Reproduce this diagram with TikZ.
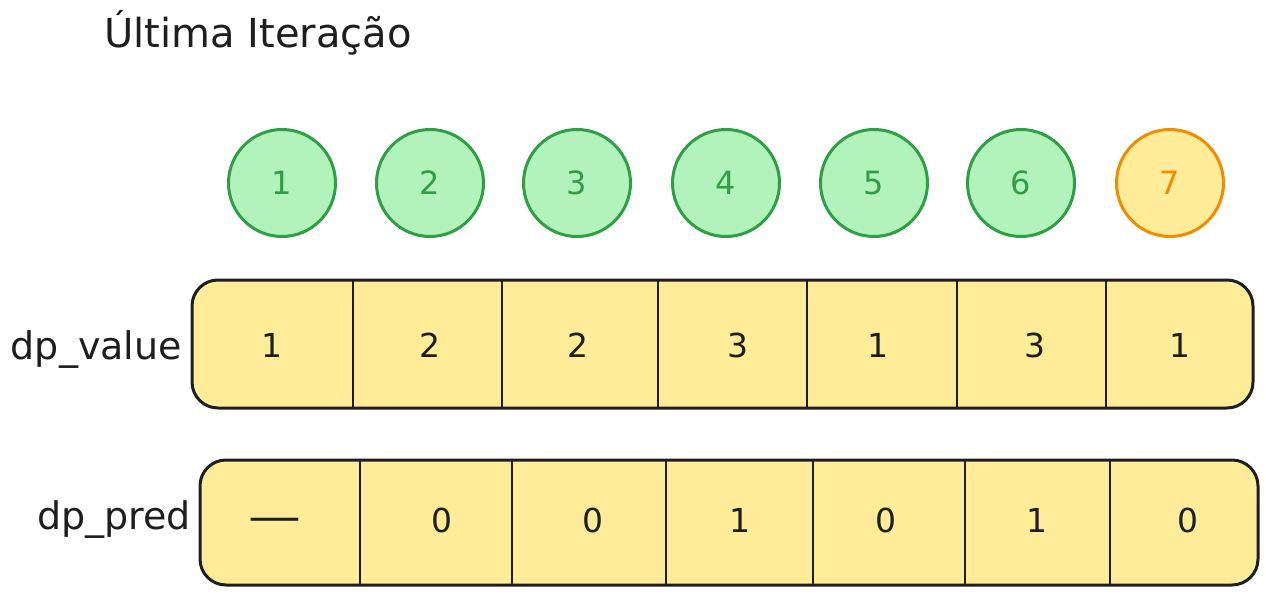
\documentclass[tikz,border=0pt]{standalone}
\usepackage{fontspec}
\setmainfont{DejaVu Sans}
\definecolor{gfill}{HTML}{B2F2BB}
\definecolor{gline}{HTML}{2F9E44}
\definecolor{ofill}{HTML}{FFEC99}
\definecolor{oline}{HTML}{F08C00}
\definecolor{ink}{HTML}{1E1E1E}
\tikzset{
  node/.style={circle,draw=gline,fill=gfill,line width=3pt,minimum size=107pt,inner sep=0pt,text=gline,font=\fontsize{32}{32}\selectfont},
  cur/.style={node,draw=oline,fill=ofill,text=oline},
  row/.style={draw=ink,fill=ofill,line width=3pt,rounded corners=26pt},
  div/.style={draw=ink,line width=2.8pt},
  val/.style={text=ink,font=\fontsize{33}{33}\selectfont,inner sep=0pt},
  lab/.style={text=ink,font=\fontsize{38}{38}\selectfont,anchor=east,inner sep=0pt},
}
\begin{document}
\begin{tikzpicture}[x=1pt,y=-1pt]
\useasboundingbox (0,0) rectangle (1266,599);
\node[text=ink,font=\fontsize{40}{40}\selectfont,anchor=west,inner sep=0pt] (title) at (104,33) {Última Iteração};
% circles
\foreach \i/\x in {1/282,2/430,3/577,4/726,5/874,6/1021}
  \node[node] (c\i) at (\x,183) {\i};
\node[cur] (c7) at (1170,183) {7};
% dp_value row
\draw[row] (192,280) rectangle (1253,408);
\foreach \x in {353,502,658,807,957,1106}
  \draw[div] (\x,280) -- (\x,408);
\foreach \v/\x [count=\k] in {1/272,2/430,2/578,3/738,1/878,3/1035,1/1180}
  \node[val] (v\k) at (\x,345) {\v};
\node[lab] (lv) at (182,350) {dp\_value};
% dp_pred row
\draw[row] (200,460) rectangle (1258,585);
\foreach \x in {360,512,666,813,965,1110}
  \draw[div] (\x,460) -- (\x,585);
\node[val] (p1) at (275,525) {\scalebox{1.6}[1.3]{—}};
\foreach \v/\x [count=\k from 2] in {0/442,0/593,1/740,0/886,1/1037,0/1188}
  \node[val] (p\k) at (\x,520) {\v};
\node[lab] (lp) at (191,520) {dp\_pred};
\end{tikzpicture}
\end{document}
